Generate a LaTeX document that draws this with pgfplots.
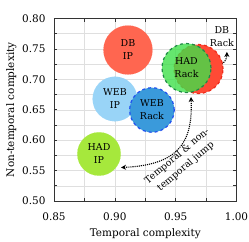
\documentclass[border=0pt]{standalone}
\usepackage{pgfplots}
\pgfplotsset{compat=1.18}
\usepackage{fontspec}
\setmainfont{DejaVu Serif}
\usetikzlibrary{arrows.meta}
\definecolor{dbip}{HTML}{FF6650}
\definecolor{webip}{HTML}{99D4F7}
\definecolor{webrack}{HTML}{3A9ADB}
\definecolor{webrackb}{HTML}{1F4FF0}
\definecolor{hadip}{HTML}{A6E83C}
\definecolor{hadrack}{HTML}{3EE04A}
\definecolor{hadrackb}{HTML}{1E8A45}
\definecolor{dbrack}{HTML}{FF4A35}
\definecolor{dbrackb}{HTML}{F02A1A}
\begin{document}
\begin{tikzpicture}
\useasboundingbox (-54bp,-41bp) rectangle (195bp,201bp);
\begin{axis}[
  scale only axis,
  width=182.5bp, height=182.5bp,
  xmin=0.85, xmax=1.00, ymin=0.50, ymax=0.80,
  xtick={0.85,0.90,0.95,1.00},
  ytick={0.50,0.55,0.60,0.65,0.70,0.75,0.80},
  minor x tick num=1, minor y tick num=1,
  xticklabel style={/pgf/number format/fixed,/pgf/number format/fixed zerofill,/pgf/number format/precision=2, yshift=-8bp},
  yticklabel style={/pgf/number format/fixed,/pgf/number format/fixed zerofill,/pgf/number format/precision=2, xshift=-5bp},
  /pgf/number format/assume math mode=true,
  tick label style={font=\fontsize{10.5}{12}\selectfont},
  label style={font=\fontsize{10.5}{12}\selectfont},
  xlabel={Temporal complexity},
  ylabel={Non-temporal complexity},
  xlabel style={yshift=-1bp},
  ylabel style={yshift=-1bp},
  grid=both,
  major grid style={gray!25, line width=0.5pt},
  minor grid style={gray!25, line width=0.5pt},
  tick align=inside,
  major tick length=3bp, minor tick length=3bp,
  axis line style={black!80, line width=0.9pt},
  every tick/.style={black!80, line width=0.6pt},
  clip=false,
  every node near coord/.style={anchor=center, align=center, text=black, font=\fontsize{9.5}{13}\selectfont, fill opacity=1, text opacity=1},
]
\addplot[only marks, mark=*, mark size=24.5bp, mark options={fill=dbip, draw=dbip, line width=0.1pt},
  nodes near coords={DB\\IP}] coordinates {(0.9108,0.7482)};
\addplot[only marks, mark=*, mark size=22.3bp, mark options={fill=webip, draw=webip, line width=0.1pt},
  nodes near coords={WEB\\IP}] coordinates {(0.9001,0.6677)};
\addplot[only marks, mark=*, mark size=22.3bp, mark options={fill=webrack, draw=webrackb, dashed, line width=1.2pt},
  nodes near coords={WEB\\Rack}] coordinates {(0.9305,0.6496)};
\addplot[only marks, mark=*, mark size=21.7bp, mark options={fill=hadip, draw=hadip, line width=0.1pt},
  nodes near coords={HAD\\IP}] coordinates {(0.8870,0.5773)};
\addplot[only marks, mark=*, mark size=24.5bp, mark options={fill=dbrack, draw=dbrackb, dashed, line width=1.2pt}] coordinates {(0.9688,0.7170)};
\addplot[only marks, mark=*, mark size=24.5bp, mark options={fill=hadrack, fill opacity=0.8, draw=hadrackb, dashed, line width=1.2pt},
  nodes near coords={HAD\\Rack}] coordinates {(0.9589,0.7186)};

\node[align=center, font=\fontsize{9.5}{13}\selectfont] at (axis cs:0.9880,0.7700) {DB\\Rack};
\node[align=center, rotate=40, font=\fontsize{9.5}{13.5}\selectfont] at (axis cs:0.9548,0.5650) {Temporal \& non-\\temporal jump};

\draw[densely dotted, line width=1.1pt, {Stealth[length=5bp,width=5bp]}-{Stealth[length=5bp,width=5bp]}]
  (axis cs:0.9051,0.5551) .. controls (axis cs:0.9519,0.5592) and (axis cs:0.96425,0.59534) .. (axis cs:0.9626,0.6710);
\draw[densely dotted, line width=1.1pt, -{Stealth[length=5bp,width=5bp]}]
  (axis cs:0.9864,0.7235) .. controls (axis cs:0.991,0.728) and (axis cs:0.9921,0.735) .. (axis cs:0.9921,0.7450);
\end{axis}
\end{tikzpicture}
\end{document}
